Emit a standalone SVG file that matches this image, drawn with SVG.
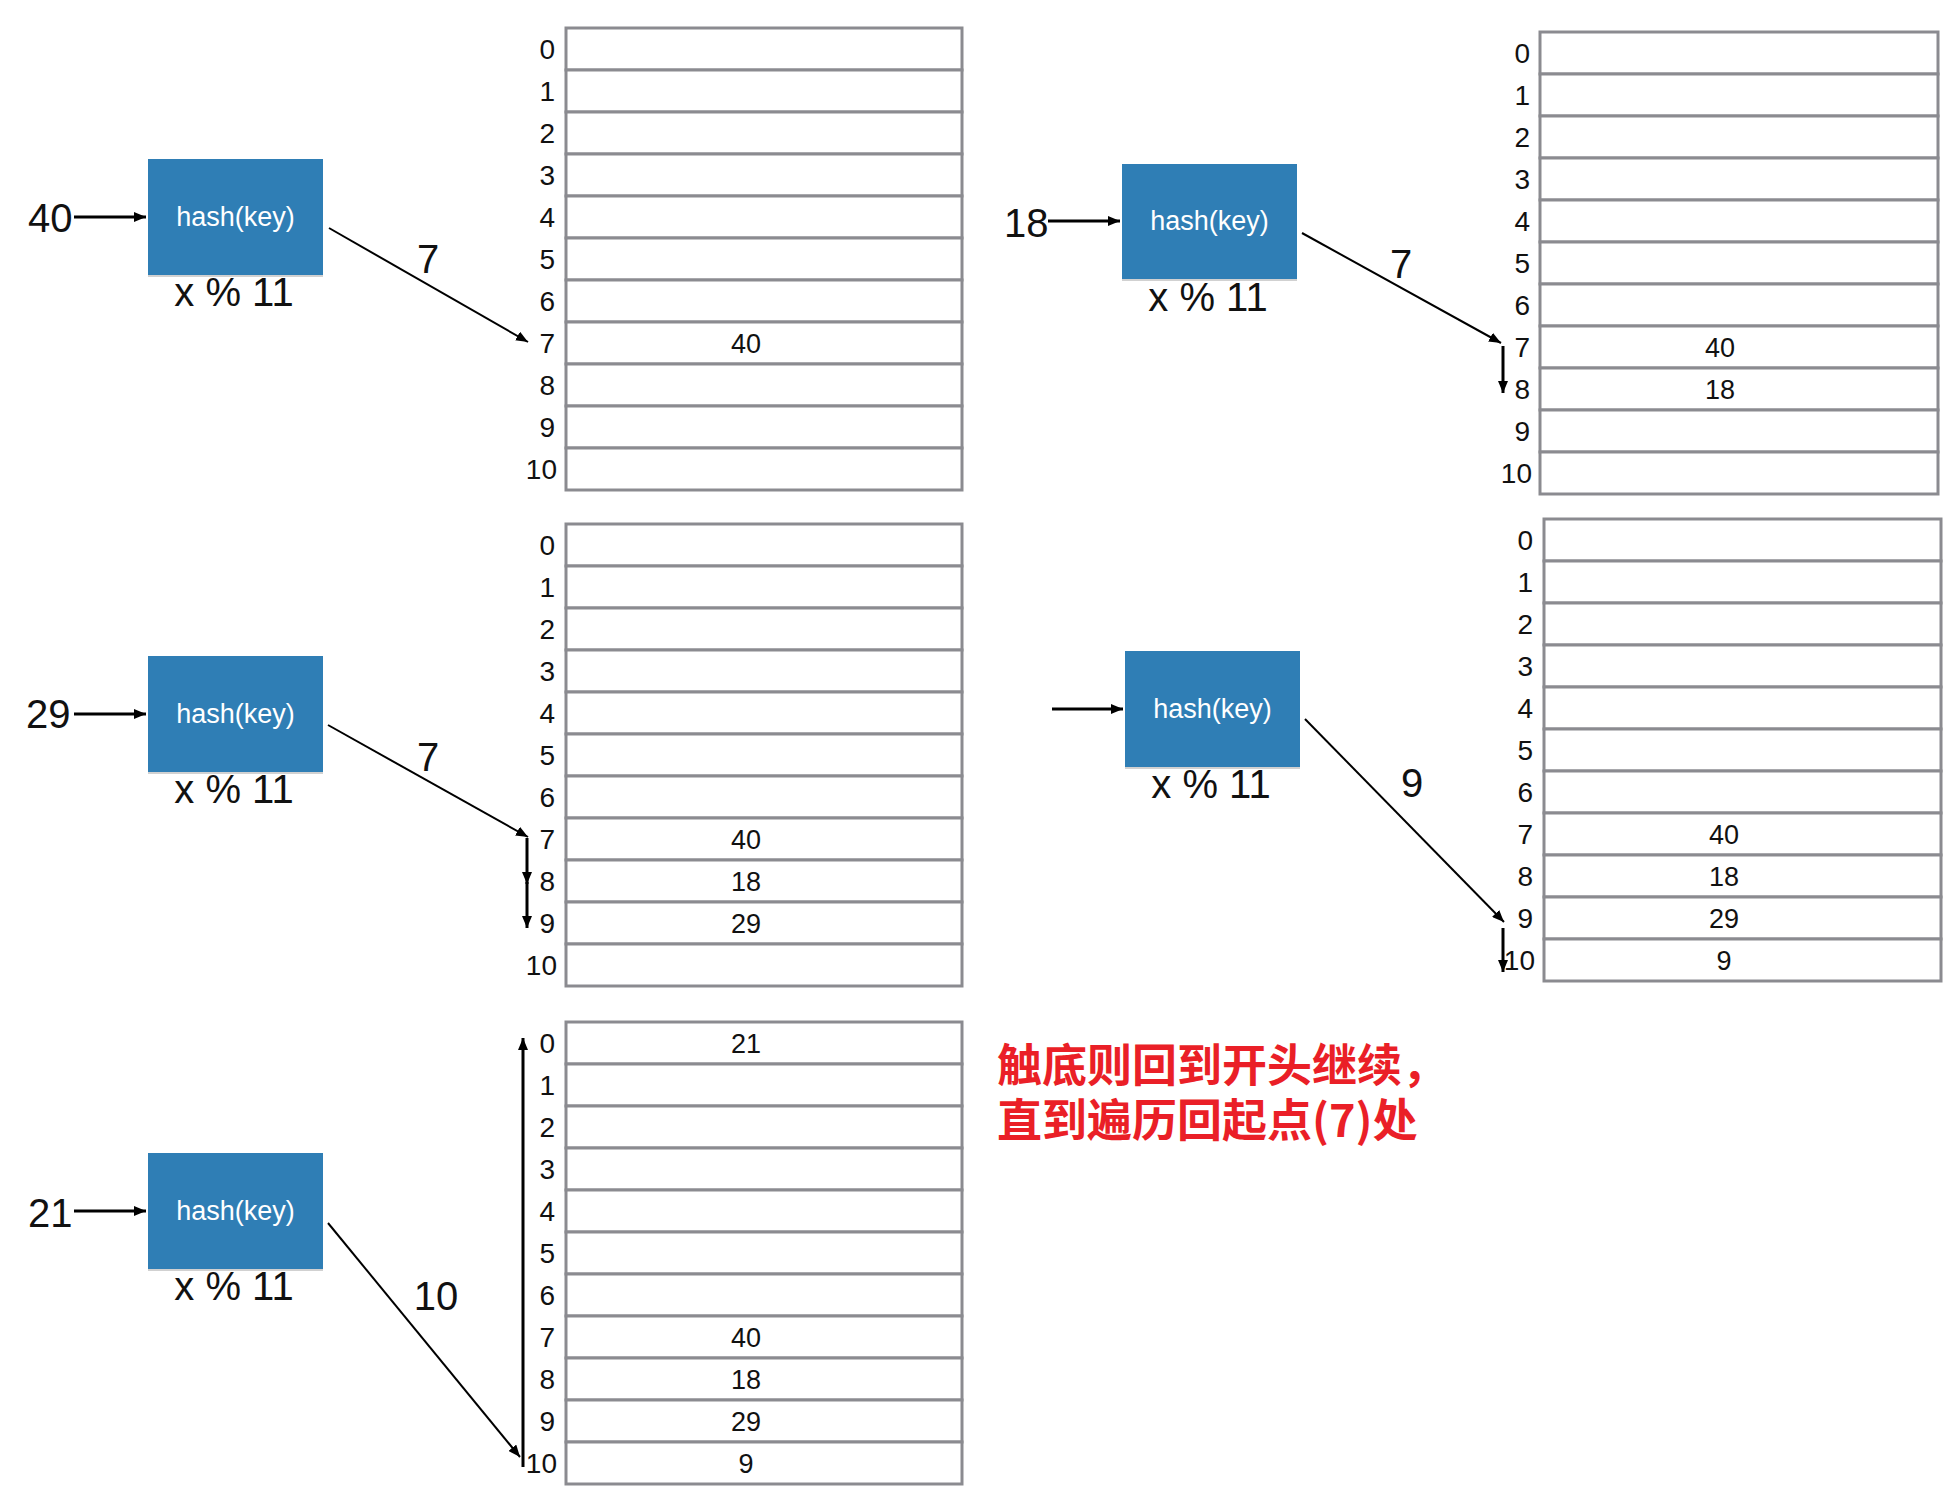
<svg xmlns="http://www.w3.org/2000/svg" width="1952" height="1498" viewBox="0 0 1952 1498">
<defs>
<style>
.row{fill:#fff;stroke:#8b8b90;stroke-width:3}
.idx{font-family:"Liberation Sans",Arial,sans-serif;font-size:28px;fill:#111;text-anchor:end}
.val{font-family:"Liberation Sans",Arial,sans-serif;font-size:27px;fill:#111;text-anchor:middle}
.box{fill:#2f7eb5}
.shadow{fill:#000;opacity:0.18}
.boxt{font-family:"Liberation Sans",Arial,sans-serif;font-size:27px;fill:#fff;text-anchor:middle}
.mod{font-family:"Liberation Sans",Arial,sans-serif;font-size:40px;fill:#111;text-anchor:middle}
.inp{font-family:"Liberation Sans",Arial,sans-serif;font-size:40px;fill:#111}
.elab{font-family:"Liberation Sans",Arial,sans-serif;font-size:40px;fill:#111;text-anchor:middle}
.thick{stroke:#000;stroke-width:3;fill:none;marker-end:url(#ah)}
.thin{stroke:#000;stroke-width:2;fill:none;marker-end:url(#ah)}
.note{font-family:"Noto Sans CJK SC","Noto Sans",sans-serif;font-size:45px;font-weight:bold;fill:#ea1f27}
</style>
<marker id="ah" markerUnits="userSpaceOnUse" markerWidth="12" markerHeight="10" refX="12" refY="5" orient="auto" viewBox="0 0 12 10">
<path d="M0,0 L12,5 L0,10 z" fill="#000"/>
</marker>
</defs>
<rect width="1952" height="1498" fill="#fff"/>

<!-- Panel 1 -->
<g id="table1">
<rect class="row" x="566" y="28" width="396" height="42"/>
<rect class="row" x="566" y="70" width="396" height="42"/>
<rect class="row" x="566" y="112" width="396" height="42"/>
<rect class="row" x="566" y="154" width="396" height="42"/>
<rect class="row" x="566" y="196" width="396" height="42"/>
<rect class="row" x="566" y="238" width="396" height="42"/>
<rect class="row" x="566" y="280" width="396" height="42"/>
<rect class="row" x="566" y="322" width="396" height="42"/>
<rect class="row" x="566" y="364" width="396" height="42"/>
<rect class="row" x="566" y="406" width="396" height="42"/>
<rect class="row" x="566" y="448" width="396" height="42"/>
<text class="idx" x="555" y="59">0</text>
<text class="idx" x="555" y="101">1</text>
<text class="idx" x="555" y="143">2</text>
<text class="idx" x="555" y="185">3</text>
<text class="idx" x="555" y="227">4</text>
<text class="idx" x="555" y="269">5</text>
<text class="idx" x="555" y="311">6</text>
<text class="idx" x="555" y="353">7</text>
<text class="idx" x="555" y="395">8</text>
<text class="idx" x="555" y="437">9</text>
<text class="idx" x="557" y="479">10</text>
<text class="val" x="746" y="353">40</text>
</g>
<g id="hash1">
<rect class="shadow" x="148" y="161" width="175" height="116"/>
<rect class="box" x="148" y="159" width="175" height="116"/>
<text class="boxt" x="235.5" y="226">hash(key)</text>
<text class="mod" x="234" y="306">x % 11</text>
</g>
<g id="key1"><text class="inp" x="28" y="232">40</text></g>

<!-- Panel 2 -->
<g id="table2">
<rect class="row" x="1540" y="32" width="398" height="42"/>
<rect class="row" x="1540" y="74" width="398" height="42"/>
<rect class="row" x="1540" y="116" width="398" height="42"/>
<rect class="row" x="1540" y="158" width="398" height="42"/>
<rect class="row" x="1540" y="200" width="398" height="42"/>
<rect class="row" x="1540" y="242" width="398" height="42"/>
<rect class="row" x="1540" y="284" width="398" height="42"/>
<rect class="row" x="1540" y="326" width="398" height="42"/>
<rect class="row" x="1540" y="368" width="398" height="42"/>
<rect class="row" x="1540" y="410" width="398" height="42"/>
<rect class="row" x="1540" y="452" width="398" height="42"/>
<text class="idx" x="1530" y="63">0</text>
<text class="idx" x="1530" y="105">1</text>
<text class="idx" x="1530" y="147">2</text>
<text class="idx" x="1530" y="189">3</text>
<text class="idx" x="1530" y="231">4</text>
<text class="idx" x="1530" y="273">5</text>
<text class="idx" x="1530" y="315">6</text>
<text class="idx" x="1530" y="357">7</text>
<text class="idx" x="1530" y="399">8</text>
<text class="idx" x="1530" y="441">9</text>
<text class="idx" x="1532" y="483">10</text>
<text class="val" x="1720" y="357">40</text>
<text class="val" x="1720" y="399">18</text>
</g>
<g id="hash2">
<rect class="shadow" x="1122" y="166" width="175" height="115"/>
<rect class="box" x="1122" y="164" width="175" height="115"/>
<text class="boxt" x="1209.5" y="230">hash(key)</text>
<text class="mod" x="1208" y="311">x % 11</text>
</g>
<g id="key2"><text class="inp" x="1004" y="237">18</text></g>

<!-- Panel 3 -->
<g id="table3">
<rect class="row" x="566" y="524" width="396" height="42"/>
<rect class="row" x="566" y="566" width="396" height="42"/>
<rect class="row" x="566" y="608" width="396" height="42"/>
<rect class="row" x="566" y="650" width="396" height="42"/>
<rect class="row" x="566" y="692" width="396" height="42"/>
<rect class="row" x="566" y="734" width="396" height="42"/>
<rect class="row" x="566" y="776" width="396" height="42"/>
<rect class="row" x="566" y="818" width="396" height="42"/>
<rect class="row" x="566" y="860" width="396" height="42"/>
<rect class="row" x="566" y="902" width="396" height="42"/>
<rect class="row" x="566" y="944" width="396" height="42"/>
<text class="idx" x="555" y="555">0</text>
<text class="idx" x="555" y="597">1</text>
<text class="idx" x="555" y="639">2</text>
<text class="idx" x="555" y="681">3</text>
<text class="idx" x="555" y="723">4</text>
<text class="idx" x="555" y="765">5</text>
<text class="idx" x="555" y="807">6</text>
<text class="idx" x="555" y="849">7</text>
<text class="idx" x="555" y="891">8</text>
<text class="idx" x="555" y="933">9</text>
<text class="idx" x="557" y="975">10</text>
<text class="val" x="746" y="849">40</text>
<text class="val" x="746" y="891">18</text>
<text class="val" x="746" y="933">29</text>
</g>
<g id="hash3">
<rect class="shadow" x="148" y="658" width="175" height="116"/>
<rect class="box" x="148" y="656" width="175" height="116"/>
<text class="boxt" x="235.5" y="723">hash(key)</text>
<text class="mod" x="234" y="803">x % 11</text>
</g>
<g id="key3"><text class="inp" x="26" y="728">29</text></g>

<!-- Panel 4 -->
<g id="table4">
<rect class="row" x="1544" y="519" width="397" height="42"/>
<rect class="row" x="1544" y="561" width="397" height="42"/>
<rect class="row" x="1544" y="603" width="397" height="42"/>
<rect class="row" x="1544" y="645" width="397" height="42"/>
<rect class="row" x="1544" y="687" width="397" height="42"/>
<rect class="row" x="1544" y="729" width="397" height="42"/>
<rect class="row" x="1544" y="771" width="397" height="42"/>
<rect class="row" x="1544" y="813" width="397" height="42"/>
<rect class="row" x="1544" y="855" width="397" height="42"/>
<rect class="row" x="1544" y="897" width="397" height="42"/>
<rect class="row" x="1544" y="939" width="397" height="42"/>
<text class="idx" x="1533" y="550">0</text>
<text class="idx" x="1533" y="592">1</text>
<text class="idx" x="1533" y="634">2</text>
<text class="idx" x="1533" y="676">3</text>
<text class="idx" x="1533" y="718">4</text>
<text class="idx" x="1533" y="760">5</text>
<text class="idx" x="1533" y="802">6</text>
<text class="idx" x="1533" y="844">7</text>
<text class="idx" x="1533" y="886">8</text>
<text class="idx" x="1533" y="928">9</text>
<text class="idx" x="1535" y="970">10</text>
<text class="val" x="1724" y="844">40</text>
<text class="val" x="1724" y="886">18</text>
<text class="val" x="1724" y="928">29</text>
<text class="val" x="1724" y="970">9</text>
</g>
<g id="hash4">
<rect class="shadow" x="1125" y="653" width="175" height="116"/>
<rect class="box" x="1125" y="651" width="175" height="116"/>
<text class="boxt" x="1212.5" y="718">hash(key)</text>
<text class="mod" x="1211" y="798">x % 11</text>
</g>

<!-- Panel 5 -->
<g id="table5">
<rect class="row" x="566" y="1022" width="396" height="42"/>
<rect class="row" x="566" y="1064" width="396" height="42"/>
<rect class="row" x="566" y="1106" width="396" height="42"/>
<rect class="row" x="566" y="1148" width="396" height="42"/>
<rect class="row" x="566" y="1190" width="396" height="42"/>
<rect class="row" x="566" y="1232" width="396" height="42"/>
<rect class="row" x="566" y="1274" width="396" height="42"/>
<rect class="row" x="566" y="1316" width="396" height="42"/>
<rect class="row" x="566" y="1358" width="396" height="42"/>
<rect class="row" x="566" y="1400" width="396" height="42"/>
<rect class="row" x="566" y="1442" width="396" height="42"/>
<text class="idx" x="555" y="1053">0</text>
<text class="idx" x="555" y="1095">1</text>
<text class="idx" x="555" y="1137">2</text>
<text class="idx" x="555" y="1179">3</text>
<text class="idx" x="555" y="1221">4</text>
<text class="idx" x="555" y="1263">5</text>
<text class="idx" x="555" y="1305">6</text>
<text class="idx" x="555" y="1347">7</text>
<text class="idx" x="555" y="1389">8</text>
<text class="idx" x="555" y="1431">9</text>
<text class="idx" x="557" y="1473">10</text>
<text class="val" x="746" y="1053">21</text>
<text class="val" x="746" y="1347">40</text>
<text class="val" x="746" y="1389">18</text>
<text class="val" x="746" y="1431">29</text>
<text class="val" x="746" y="1473">9</text>
</g>
<g id="hash5">
<rect class="shadow" x="148" y="1155" width="175" height="116"/>
<rect class="box" x="148" y="1153" width="175" height="116"/>
<text class="boxt" x="235.5" y="1220">hash(key)</text>
<text class="mod" x="234" y="1300">x % 11</text>
</g>
<g id="key5"><text class="inp" x="28" y="1227">21</text></g>

<g id="note">
<text class="note" x="997" y="1082">触底则回到开头继续，</text>
<text class="note" x="997" y="1137">直到遍历回起点(7)处</text>
</g>

<g id="connectors">
<line class="thick" x1="74" y1="217" x2="146" y2="217"/>
<line class="thin" x1="329" y1="228" x2="528" y2="342"/>
<text class="elab" x="428" y="273">7</text>

<line class="thick" x1="1048" y1="221" x2="1120" y2="221"/>
<line class="thin" x1="1302" y1="233" x2="1501" y2="343"/>
<text class="elab" x="1401" y="278">7</text>
<line class="thick" x1="1503" y1="346" x2="1503" y2="393"/>

<line class="thick" x1="74" y1="714" x2="146" y2="714"/>
<line class="thin" x1="328" y1="725" x2="528" y2="837"/>
<text class="elab" x="428" y="771">7</text>
<line class="thick" x1="527" y1="838" x2="527" y2="884"/>
<line class="thick" x1="527" y1="882" x2="527" y2="928"/>

<line class="thick" x1="1052" y1="709" x2="1123" y2="709"/>
<line class="thin" x1="1305" y1="719" x2="1504" y2="922"/>
<text class="elab" x="1412" y="797">9</text>
<line class="thick" x1="1503" y1="928" x2="1503" y2="972"/>

<line class="thick" x1="74" y1="1211" x2="146" y2="1211"/>
<line class="thin" x1="328" y1="1223" x2="520" y2="1457"/>
<text class="elab" x="436" y="1310">10</text>
<line class="thick" x1="523" y1="1467" x2="523" y2="1038"/>
</g>
</svg>
